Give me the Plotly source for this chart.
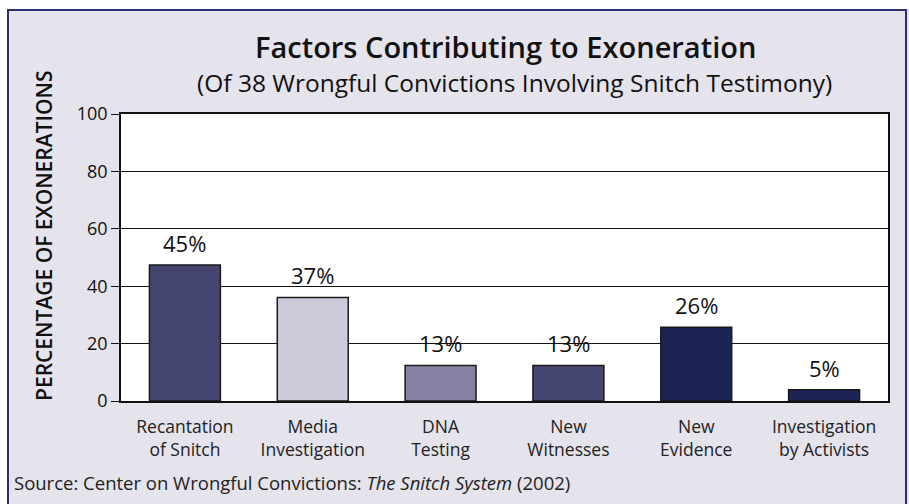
import plotly.graph_objects as go

categories = ["Recantation<br>of Snitch", "Media<br>Investigation", "DNA<br>Testing",
              "New<br>Witnesses", "New<br>Evidence", "Investigation<br>by Activists"]
values = [47.4, 36.1, 12.4, 12.4, 25.7, 3.9]
value_labels = ["45%", "37%", "13%", "13%", "26%", "5%"]
bar_colors = ["#45466F", "#CDCADB", "#8582A3", "#45466F", "#1B2455", "#1B2455"]
y_ticks = [0, 20, 40, 60, 80, 100]

W, H = 909, 504
L, R, T, B = 121, 21, 114, 103
pw, ph = W - L - R, H - T - B

def px(x):
    return (x - L) / pw

def py(y):
    return (H - B - y) / ph

FONT = "Open Sans"

fig = go.Figure()
fig.add_trace(go.Bar(
    x=categories, y=values, width=0.555,
    marker=dict(color=bar_colors, line=dict(color="#1a1a1a", width=1.5)),
    hoverinfo="skip",
))

annotations = []
for c, v, lab in zip(categories, values, value_labels):
    annotations.append(dict(x=c, y=v, text=lab, showarrow=False, yanchor="bottom",
                            yshift=5, font=dict(family=FONT, size=22, color="#111")))

annotations += [
    dict(xref="paper", yref="paper", x=px(505), y=py(47), text="Factors Contributing to Exoneration",
         showarrow=False, xanchor="center", yanchor="middle",
         font=dict(family=FONT, size=29, color="#111", weight=600)),
    dict(xref="paper", yref="paper", x=px(514), y=py(82),
         text="(Of 38 Wrongful Convictions Involving Snitch Testimony)",
         showarrow=False, xanchor="center", yanchor="middle", font=dict(family=FONT, size=24.5, color="#111")),
    dict(xref="paper", yref="paper", x=px(44), y=py(236), text="PERCENTAGE OF EXONERATIONS",
         textangle=-90, showarrow=False, xanchor="center", yanchor="middle",
         font=dict(family=FONT, size=21, color="#111", weight=600)),
    dict(xref="paper", yref="paper", x=px(12), y=py(483),
         text="Source: Center on Wrongful Convictions: <i>The Snitch System</i> (2002)",
         showarrow=False, xanchor="left", yanchor="middle", font=dict(family=FONT, size=18.5, color="#222")),
]

shapes = [
    dict(type="rect", xref="paper", yref="paper", x0=px(0), x1=px(W), y0=py(0), y1=py(9),
         fillcolor="white", line=dict(width=0), layer="below"),
    dict(type="rect", xref="paper", yref="paper", x0=px(0), x1=px(7), y0=py(0), y1=py(H),
         fillcolor="white", line=dict(width=0), layer="below"),
    dict(type="rect", xref="paper", yref="paper", x0=px(8), x1=px(906), y0=py(10), y1=py(H + 5),
         fillcolor="rgba(0,0,0,0)", line=dict(color="#2A2E6E", width=2), layer="above"),
]

fig.update_layout(
    width=W, height=H,
    margin=dict(l=L, r=R, t=T, b=B, pad=0),
    paper_bgcolor="#E5E3EB", plot_bgcolor="white",
    showlegend=False, bargap=0.445,
    annotations=annotations, shapes=shapes,
    font=dict(family=FONT, color="#111"),
)
fig.update_xaxes(showline=True, linecolor="#111", linewidth=1.5, mirror=True,
                 showgrid=False, ticks="", ticklabelstandoff=9,
                 tickfont=dict(family=FONT, size=17.5, color="#222"))
fig.update_yaxes(range=[0, 100], tickvals=y_ticks, showgrid=True, gridcolor="#111", gridwidth=1,
                 showline=True, linecolor="#111", linewidth=1.5, mirror=True,
                 ticks="outside", ticklen=8, tickcolor="#111", tickwidth=1,
                 zeroline=False, tickfont=dict(family=FONT, size=18, color="#111"))

fig.write_html("out.html", config={"displayModeBar": False},
               post_script="document.body.style.margin='0';document.body.style.overflow='hidden';")
